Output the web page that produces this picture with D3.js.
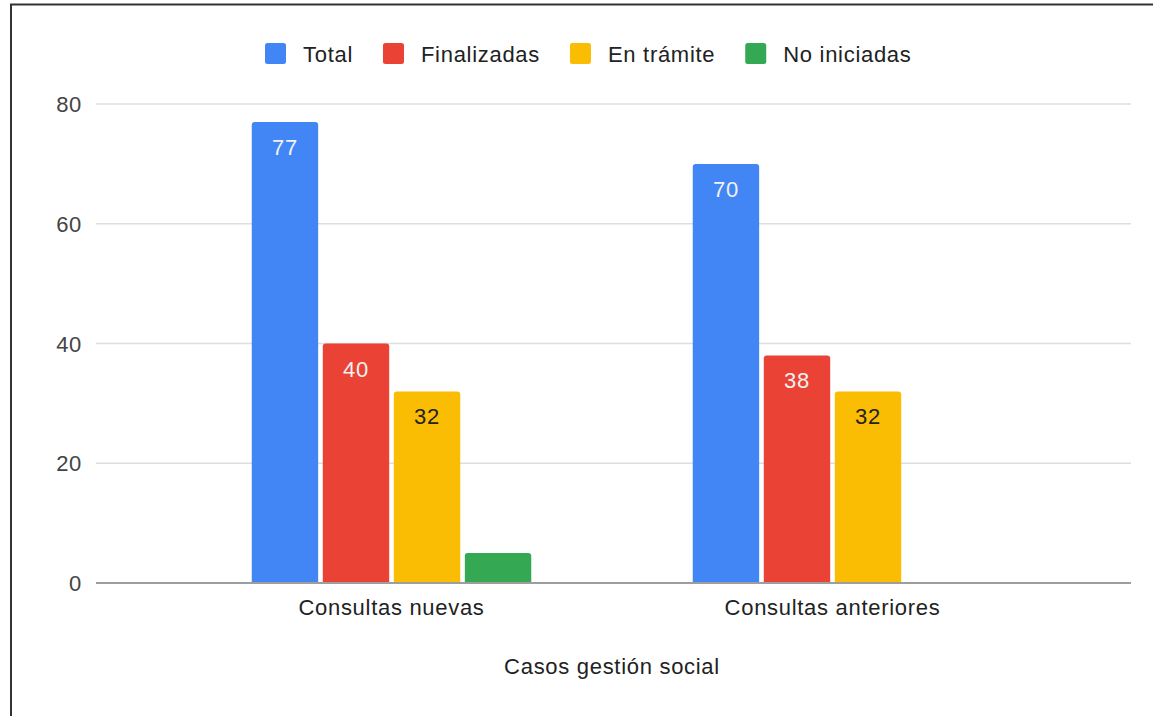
<!DOCTYPE html>
<html><head><meta charset="utf-8">
<script src="https://cdn.jsdelivr.net/npm/d3@7"></script>
<style>html,body{margin:0;padding:0;background:#fff;}svg{display:block;font-family:"Liberation Sans",Arial,sans-serif;}text{letter-spacing:0.7px;}</style>
</head><body>
<script>
const categories = ["Consultas nuevas", "Consultas anteriores"];
const seriesNames = ["Total", "Finalizadas", "En trámite", "No iniciadas"];
const total = [77, 70];
const finalizadas = [40, 38];
const enTramite = [32, 32];
const noIniciadas = [5, 0];
const yTicks = [0, 20, 40, 60, 80];
const colors = ["#4285F4", "#EA4335", "#FBBC04", "#34A853"];
const labelColors = ["#f2f2f2", "#f2f2f2", "#222", "#222"];
const xTitle = "Casos gestión social";

const seriesVals = [total, finalizadas, enTramite, noIniciadas];
const W = 1153, H = 716;
const svg = d3.select("body").append("svg").attr("width", W).attr("height", H);

// border
svg.append("path").attr("d", `M11,${H} L11,4.5 L${W},4.5`).attr("fill","none").attr("stroke","#333").attr("stroke-width",2);

const x0 = d3.scaleBand().domain(categories).range([94.5, 1129.5]).paddingInner(0.363).paddingOuter(0.355);
const x1 = d3.scaleBand().domain(seriesNames).range([0, x0.bandwidth()]).paddingInner(0.065).paddingOuter(0.01);
const y = d3.scaleLinear().domain([0, 80]).range([583, 104]);

// grid
const grid = svg.append("g");
grid.selectAll("line").data(yTicks.filter(d => d !== 0)).join("line")
  .attr("x1", 96).attr("x2", 1131).attr("y1", d => y(d)).attr("y2", d => y(d))
  .attr("stroke", "#dedede").attr("stroke-width", 1.5);

// y axis labels
const yAxis = d3.axisLeft(y).tickValues(yTicks).tickSize(0).tickPadding(0);
const ya = svg.append("g").attr("transform", "translate(82,0)").call(yAxis);
ya.select(".domain").remove();
ya.selectAll("text").attr("font-size", 22).attr("fill", "#444").attr("font-family", "Liberation Sans, Arial, sans-serif").attr("dy", "0.35em");

// bars
const data = [];
categories.forEach((c, ci) => seriesNames.forEach((s, si) => data.push({c, s, si, v: seriesVals[si][ci]})));
const bars = data.filter(d => d.v > 0);
const r = 3;
svg.append("g").selectAll("path").data(bars).join("path")
  .attr("fill", d => colors[d.si])
  .attr("d", d => {
    const x = x0(d.c) + x1(d.s), w = x1.bandwidth(), yt = y(d.v), yb = y(0);
    return `M${x},${yb} L${x},${yt + r} Q${x},${yt} ${x + r},${yt} L${x + w - r},${yt} Q${x + w},${yt} ${x + w},${yt + r} L${x + w},${yb} Z`;
  });

// value labels
svg.append("g").selectAll("text").data(bars.filter(d => y(0) - y(d.v) > 40)).join("text")
  .attr("x", d => x0(d.c) + x1(d.s) + x1.bandwidth() / 2)
  .attr("y", d => y(d.v) + 33)
  .attr("text-anchor", "middle").attr("font-size", 22)
  .attr("fill", d => labelColors[d.si]).text(d => d.v);

// zero line
svg.append("line").attr("x1", 96).attr("x2", 1131).attr("y1", y(0)).attr("y2", y(0))
  .attr("stroke", "#9e9e9e").attr("stroke-width", 2);

// x axis
const xAxis = d3.axisBottom(x0).tickSize(0).tickPadding(0);
const xa = svg.append("g").attr("transform", "translate(0,615)").call(xAxis);
xa.select(".domain").remove();
xa.selectAll("text").attr("font-size", 22).attr("fill", "#222").attr("dy", 0).attr("font-family", "Liberation Sans, Arial, sans-serif");

svg.append("text").attr("x", 612).attr("y", 674).attr("text-anchor", "middle")
  .attr("font-size", 22).attr("fill", "#222").text(xTitle);

// legend
const lg = svg.append("g");
let lx = 265;
seriesNames.forEach((s, i) => {
  lg.append("rect").attr("x", lx).attr("y", 43).attr("width", 21).attr("height", 21).attr("rx", 2.5).attr("fill", colors[i]);
  const t = lg.append("text").attr("x", lx + 38).attr("y", 62).attr("font-size", 22).attr("fill", "#222").text(s);
  lx += 38 + t.node().getComputedTextLength() + 30;
});
</script>
</body></html>
